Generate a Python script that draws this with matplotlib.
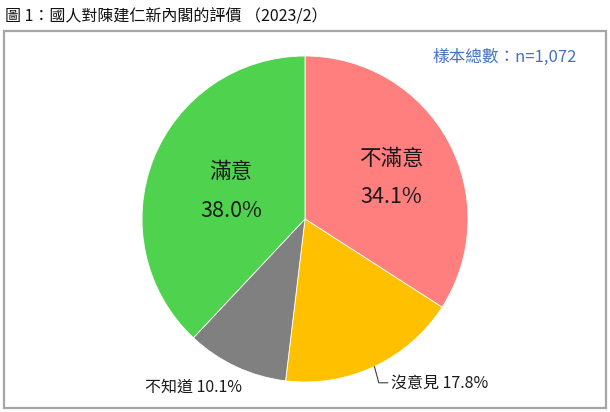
import matplotlib.pyplot as plt
import numpy as np
from matplotlib.patches import Rectangle

plt.rcParams['font.family'] = ['Noto Sans CJK TC', 'DejaVu Sans']

# survey result (2023/2)
labels = ["不滿意", "沒意見", "不知道", "滿意"]
values = [34.1, 17.8, 10.1, 38.0]
colors = ["#FF7F7F", "#FFC000", "#808080", "#4FD34F"]
title = "圖 1：國人對陳建仁新內閣的評價 （2023/2）"
sample_note = "樣本總數：n=1,072"

fig = plt.figure(figsize=(6.1, 4.12), dpi=100)

# frame around the chart
fig.patches.append(Rectangle((4 / 610, 4 / 412), 602 / 610, 377 / 412,
                             transform=fig.transFigure, fill=False,
                             edgecolor="#A6A6A6", linewidth=1.6))
fig.text(5 / 610, 1 - 17 / 412, title, fontsize=11.5, va="center", ha="left",
         color="#111111")
fig.text(577 / 610, 1 - 57 / 412, sample_note, fontsize=12, va="center",
         ha="right", color="#4472C4")

ax = fig.add_axes([142 / 610, 1 - 382 / 412, 326 / 610, 326 / 412])
wedges, _ = ax.pie(values, colors=colors, startangle=90, counterclock=False,
                   radius=1.0, wedgeprops=dict(linewidth=0.6, edgecolor="white"))
ax.set_xlim(-1, 1)
ax.set_ylim(-1, 1)
ax.set_aspect("equal")
ax.axis("off")

mids = [np.deg2rad((w.theta1 + w.theta2) / 2) for w in wedges]

# inside labels (two lines): radius and small angle shift from slice middle
for i, r, dt in [(0, 0.585, -3.1), (3, 0.485, 1.2)]:
    a = mids[i] + np.deg2rad(dt)
    x, y = r * np.cos(a), r * np.sin(a)
    ax.text(x, y + 0.117, labels[i], ha="center", va="center", fontsize=15.5,
            color="#1a1a1a", fontweight="medium")
    ax.text(x, y - 0.117, f"{values[i]:.1f}%", ha="center", va="center",
            fontsize=15.5, color="#1a1a1a", fontweight="medium")

# 沒意見 with small leader line
i = 1
x0, y0 = np.cos(mids[i]), np.sin(mids[i])
ax.annotate(f"{labels[i]} {values[i]:.1f}%", xy=(x0, y0),
            xytext=(x0 + 0.10, y0 - 0.10), ha="left", va="center",
            fontsize=11.5, color="#1a1a1a", annotation_clip=False,
            arrowprops=dict(arrowstyle="-", color="#404040", lw=0.8,
                            shrinkA=0, shrinkB=0,
                            connectionstyle="angle,angleA=0,angleB=-75,rad=0"))

# 不知道 outside, no leader
i = 2
ax.text(-0.685, -1.03, f"{labels[i]} {values[i]:.1f}%", ha="center",
        va="center", fontsize=11.5, color="#1a1a1a")

fig.savefig("out.png", dpi=100)
